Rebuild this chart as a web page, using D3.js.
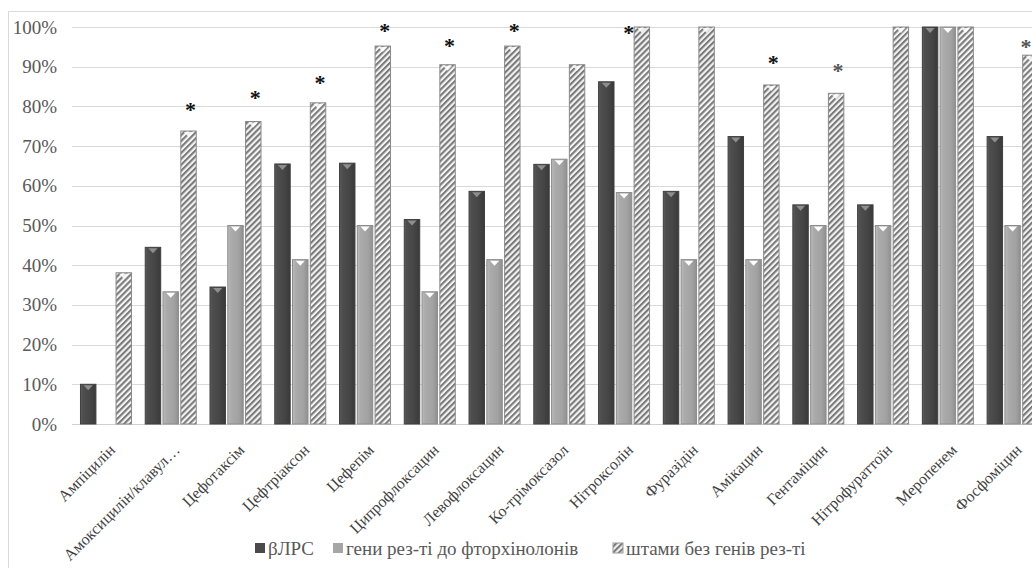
<!DOCTYPE html>
<html>
<head>
<meta charset="utf-8">
<script src="https://cdn.jsdelivr.net/npm/d3@7"></script>
<style>
  html, body { margin: 0; padding: 0; background: #fff; }
  svg { display: block; }
</style>
</head>
<body>
<svg id="chart" width="1032" height="568" font-family="Liberation Serif"></svg>
<script>
// ---------- data ----------
const categories = ["Ампіцилін", "Амоксицилін/клавул…", "Цефотаксім", "Цефтріаксон", "Цефепім",
  "Ципрофлоксацин", "Левофлоксацин", "Ко-трімоксазол", "Нітроксолін", "Фуразідін",
  "Амікацин", "Гентаміцин", "Нітрофураттоїн", "Меропенем", "Фосфоміцин"];
const seriesNames = ["βЛРС", "гени рез-ті до фторхінолонів", "штами без генів рез-ті"];
const blrs     = [10, 44.5, 34.5, 65.5, 65.7, 51.5, 58.6, 65.4, 86.2, 58.6, 72.4, 55.2, 55.2, 100, 72.4];
const fqGenes  = [0, 33.3, 50, 41.4, 50, 33.3, 41.4, 66.7, 58.3, 41.4, 41.4, 50, 50, 100, 50];
const noGenes  = [38.1, 73.8, 76.2, 80.9, 95.2, 90.5, 95.2, 90.5, 100, 100, 85.4, 83.3, 100, 100, 92.9];
const yTicks   = [0, 10, 20, 30, 40, 50, 60, 70, 80, 90, 100];
// significance marks: category and the level (%) at which the mark sits
const starCats   = ["Амоксицилін/клавул…", "Цефотаксім", "Цефтріаксон", "Цефепім", "Ципрофлоксацин",
  "Левофлоксацин", "Нітроксолін", "Амікацин", "Гентаміцин", "Фосфоміцин"];
const starLevels = [80.1, 83.2, 86.8, 99.9, 96.3, 99.9, 99.6, 91.9, 89.8, 95.9];

// ---------- layout ----------
const svg = d3.select("#chart");
const FONT = "Liberation Serif";
const plotLeft = 73.6, plotRight = 1045, plotTop = 27, plotBottom = 424;

const x = d3.scaleBand().domain(categories).range([plotLeft, plotRight]).paddingInner(0.197).paddingOuter(0.0985);
const xs = d3.scaleBand().domain([0, 1, 2]).range([0, x.bandwidth()]).paddingInner(0.075);
const y = d3.scaleLinear().domain([0, 100]).range([plotBottom, plotTop]);

const defs = svg.append("defs");
function hGrad(id, stops) {
  const g = defs.append("linearGradient").attr("id", id).attr("x1", "0").attr("x2", "1").attr("y1", "0").attr("y2", "0");
  stops.forEach(s => g.append("stop").attr("offset", s[0]).attr("stop-color", s[1]));
}
hGrad("gDark", [["0", "#5e5e5e"], ["0.15", "#4e4e4e"], ["0.6", "#464646"], ["1", "#3a3a3a"]]);
hGrad("gMid", [["0", "#bdbdbd"], ["0.2", "#ababab"], ["0.7", "#a2a2a2"], ["1", "#909090"]]);
const pat = defs.append("pattern").attr("id", "hatch").attr("patternUnits", "userSpaceOnUse")
  .attr("width", 4.2).attr("height", 4.2).attr("patternTransform", "rotate(45)");
pat.append("rect").attr("width", 4.2).attr("height", 4.2).attr("fill", "#f4f4f4");
pat.append("rect").attr("x", 0).attr("width", 2.1).attr("height", 4.2).attr("fill", "#7a7a7a");

// frame
svg.append("rect").attr("x", 8.5).attr("y", 11.5).attr("width", 1100).attr("height", 600)
  .attr("fill", "none").attr("stroke", "#d9d9d9").attr("stroke-width", 1);

// gridlines
svg.append("g").selectAll("line").data(yTicks).join("line")
  .attr("x1", 72).attr("x2", 1032)
  .attr("y1", d => Math.round(y(d)) + 0.5).attr("y2", d => Math.round(y(d)) + 0.5)
  .attr("stroke", d => d === 0 ? "#d0d0d0" : "#d9d9d9").attr("stroke-width", 1.2);

// y axis labels
const yAxis = d3.axisLeft(y).tickValues(yTicks).tickFormat(d => d + "%").tickSize(0).tickPadding(0);
const yg = svg.append("g").attr("transform", `translate(57,0)`).call(yAxis);
yg.attr("font-family", FONT).attr("font-size", 19);
yg.select(".domain").remove();
yg.selectAll("text").attr("fill", "#595959");

// bars
const series = [blrs, fqGenes, noGenes];
const fills = ["url(#gDark)", "url(#gMid)", "url(#hatch)"];
const strokes = ["#3f3f3f", "#8c8c8c", "#8a8a8a"];
const capFill = ["#8e8e8e", "#ffffff", "#ffffff"];
series.forEach((vals, si) => {
  const g = svg.append("g");
  const data = vals.map((v, i) => ({ c: categories[i], v })).filter(d => d.v > 0);
  g.selectAll("rect").data(data).join("rect")
    .attr("x", d => x(d.c) + xs(si) + 0.5)
    .attr("y", d => y(d.v))
    .attr("width", xs.bandwidth() - 1)
    .attr("height", d => y(0) - y(d.v))
    .attr("fill", fills[si])
    .attr("stroke", strokes[si]).attr("stroke-width", 1);
  g.selectAll("path").data(data).join("path")
    .attr("d", d => {
      const x0 = x(d.c) + xs(si), w = xs.bandwidth(), t = y(d.v) + 1;
      return `M${x0 + w * 0.22},${t} L${x0 + w * 0.78},${t} L${x0 + w * 0.5},${t + 5} Z`;
    })
    .attr("fill", capFill[si]).attr("opacity", si === 2 ? 0.85 : 1);
});

// stars
svg.append("g").selectAll("text").data(starCats.map((c, i) => ({ c, lv: starLevels[i] }))).join("text")
  .attr("x", d => Math.min(x(d.c) + xs(2) + xs.bandwidth() / 2 + (d.c === "Нітроксолін" ? -13 : 2), 1026))
  .attr("y", d => y(d.lv) + 11)
  .attr("text-anchor", "middle")
  .attr("font-family", FONT).attr("font-weight", "bold").attr("font-size", 22)
  .attr("fill", d => (d.c === "Гентаміцин" || d.c === "Фосфоміцин") ? "#555" : "#111")
  .text("*");

// x labels
const xAxis = d3.axisBottom(x).tickSize(0).tickPadding(0);
const xg = svg.append("g").attr("transform", `translate(0,${plotBottom})`).call(xAxis);
xg.attr("font-family", FONT).attr("font-size", 16);
xg.select(".domain").remove();
xg.selectAll("text")
  .attr("fill", "#3f3f3f")
  .attr("text-anchor", "end").attr("dy", null).attr("y", null)
  .attr("transform", "translate(10,27) rotate(-45)");

// legend
const legend = svg.append("g").attr("font-family", FONT).attr("font-size", 19);
const legFills = ["#4a4a4a", "#a6a6a6", "url(#hatch)"];
const legX = [255, 333, 613];
seriesNames.forEach((n, i) => {
  legend.append("rect").attr("x", legX[i]).attr("y", 543).attr("width", 10).attr("height", 10)
    .attr("fill", legFills[i]).attr("stroke", i === 2 ? "#999" : "none");
  legend.append("text").attr("x", legX[i] + 13).attr("y", 555)
    .attr("fill", "#595959").text(n);
});
</script>
</body>
</html>
